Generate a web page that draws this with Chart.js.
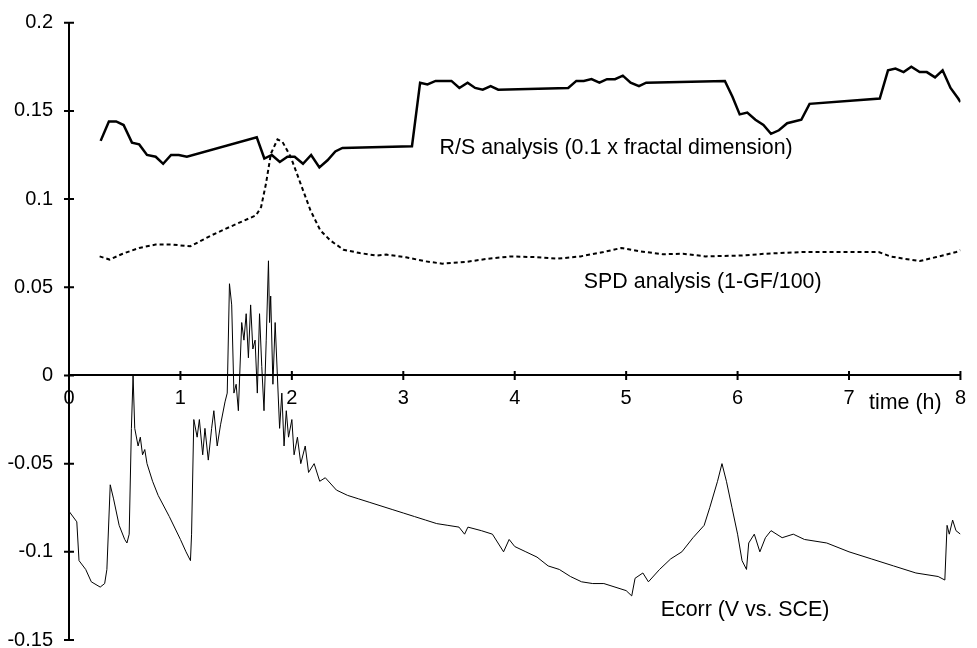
<!DOCTYPE html>
<html>
<head>
<meta charset="utf-8">
<script src="https://cdn.jsdelivr.net/npm/chart.js@4"></script>
<style>
  html, body { margin: 0; padding: 0; background: #fff; }
  #wrap { width: 977px; height: 648px; position: relative; }
</style>
</head>
<body>
<div id="wrap"><canvas id="chart"></canvas></div>
<script>
// R/S analysis (0.1 x fractal dimension)
const rsTime = [0.284, 0.358, 0.423, 0.49, 0.565, 0.63, 0.70, 0.778, 0.845, 0.916,
  0.985, 1.058, 1.685, 1.753, 1.82, 1.892, 1.96, 2.025, 2.10, 2.173,
  2.247, 2.32, 2.39, 2.454, 3.078, 3.151, 3.217, 3.29, 3.432, 3.503,
  3.577, 3.645, 3.713, 3.784, 3.852, 4.48, 4.553, 4.62, 4.689, 4.76,
  4.828, 4.90, 4.97, 5.04, 5.115, 5.18, 5.886, 5.954, 6.019, 6.087,
  6.16, 6.232, 6.30, 6.371, 6.445, 6.572, 6.646, 7.276, 7.35, 7.417,
  7.49, 7.559, 7.634, 7.698, 7.772, 7.84, 7.911, 7.98, 8.0];
const rsValue = [0.133, 0.144, 0.144, 0.142, 0.132, 0.131, 0.125, 0.124, 0.120, 0.125,
  0.125, 0.124, 0.135, 0.123, 0.125, 0.121, 0.124, 0.124, 0.120, 0.125,
  0.118, 0.122, 0.127, 0.129, 0.130, 0.166, 0.165, 0.167, 0.167, 0.163,
  0.166, 0.163, 0.162, 0.164, 0.162, 0.163, 0.167, 0.167, 0.168, 0.166,
  0.168, 0.168, 0.170, 0.166, 0.164, 0.166, 0.167, 0.158, 0.148, 0.149,
  0.145, 0.142, 0.137, 0.139, 0.143, 0.145, 0.154, 0.157, 0.173, 0.174,
  0.172, 0.175, 0.172, 0.172, 0.169, 0.173, 0.163, 0.157, 0.155];

// SPD analysis (1-GF/100)
const spdTime = [0.275, 0.364, 0.482, 0.63, 0.778, 0.925, 1.088, 1.28, 1.457, 1.679,
  1.724, 1.768, 1.812, 1.871, 1.916, 1.99, 2.078, 2.167, 2.255, 2.344,
  2.463, 2.61, 2.758, 2.847, 3.024, 3.2, 3.35, 3.556, 3.763, 3.97,
  4.177, 4.384, 4.59, 4.798, 4.96, 5.124, 5.33, 5.51, 5.715, 6.04,
  6.246, 6.60, 6.956, 7.266, 7.37, 7.488, 7.636, 7.784, 7.962, 8.0];
const spdValue = [0.0675, 0.0657, 0.069, 0.0723, 0.0742, 0.0742, 0.0732, 0.0795, 0.0846, 0.0908,
  0.0955, 0.1088, 0.1258, 0.1338, 0.1324, 0.1239, 0.1088, 0.0936, 0.0823, 0.0766,
  0.0713, 0.0694, 0.068, 0.0685, 0.067, 0.0647, 0.0634, 0.0643, 0.0662, 0.0675,
  0.0671, 0.0662, 0.0675, 0.070, 0.0723, 0.0704, 0.0687, 0.069, 0.0675, 0.068,
  0.069, 0.070, 0.070, 0.070, 0.0675, 0.0662, 0.0649, 0.0671, 0.070, 0.071];

// Ecorr (V vs. SCE)
const ecorrTime = [0, 0.07, 0.09, 0.15, 0.2, 0.28, 0.32, 0.34, 0.37, 0.40,
  0.45, 0.5, 0.52, 0.54, 0.56, 0.575, 0.59, 0.62, 0.64, 0.66,
  0.68, 0.7, 0.75, 0.8, 0.9, 1.0, 1.05, 1.09, 1.1, 1.12,
  1.15, 1.17, 1.2, 1.22, 1.25, 1.28, 1.3, 1.33, 1.36, 1.4,
  1.42, 1.44, 1.46, 1.48, 1.5, 1.52, 1.55, 1.57, 1.59, 1.61,
  1.63, 1.65, 1.67, 1.69, 1.71, 1.73, 1.75, 1.77, 1.79, 1.80,
  1.81, 1.83, 1.85, 1.87, 1.89, 1.91, 1.93, 1.95, 1.97, 2.0,
  2.02, 2.05, 2.08, 2.12, 2.15, 2.2, 2.25, 2.3, 2.4, 2.5,
  2.6, 2.7, 2.8, 2.9, 3.0, 3.1, 3.2, 3.3, 3.4, 3.5,
  3.55, 3.58, 3.7, 3.8, 3.9, 3.95, 4.0, 4.1, 4.2, 4.3,
  4.4, 4.5, 4.6, 4.7, 4.8, 4.9, 5.0, 5.05, 5.08, 5.15,
  5.2, 5.3, 5.4, 5.5, 5.6, 5.7, 5.75, 5.82, 5.86, 5.9,
  5.95, 6.0, 6.04, 6.08, 6.1, 6.15, 6.2, 6.25, 6.3, 6.4,
  6.5, 6.6, 6.8, 7.0, 7.2, 7.4, 7.6, 7.8, 7.86, 7.88,
  7.9, 7.93, 7.96, 8.0];
const ecorrValue = [-0.077, -0.083, -0.105, -0.11, -0.117, -0.12, -0.118, -0.11, -0.062, -0.07,
  -0.085, -0.093, -0.095, -0.09, -0.03, 0.0, -0.03, -0.04, -0.035, -0.045,
  -0.042, -0.05, -0.06, -0.068, -0.08, -0.093, -0.1, -0.105, -0.09, -0.025,
  -0.035, -0.025, -0.045, -0.03, -0.048, -0.03, -0.02, -0.04, -0.028, -0.015,
  -0.01, 0.052, 0.04, -0.01, -0.005, -0.02, 0.03, 0.02, 0.035, 0.01,
  0.04, 0.015, 0.02, -0.01, 0.035, 0.005, -0.02, 0.02, 0.065, 0.03,
  0.045, -0.005, 0.03, 0.0, -0.03, -0.01, -0.04, -0.02, -0.035, -0.025,
  -0.045, -0.035, -0.05, -0.04, -0.055, -0.05, -0.06, -0.058, -0.065, -0.068,
  -0.07, -0.072, -0.074, -0.076, -0.078, -0.08, -0.082, -0.084, -0.085, -0.086,
  -0.09, -0.086, -0.088, -0.09, -0.1, -0.093, -0.097, -0.1, -0.103, -0.108,
  -0.11, -0.114, -0.117, -0.118, -0.118, -0.12, -0.122, -0.125, -0.115, -0.112,
  -0.117, -0.11, -0.104, -0.1, -0.092, -0.085, -0.075, -0.06, -0.05, -0.06,
  -0.075, -0.09, -0.105, -0.11, -0.095, -0.09, -0.1, -0.092, -0.088, -0.092,
  -0.09, -0.093, -0.095, -0.1, -0.104, -0.108, -0.112, -0.114, -0.116, -0.085,
  -0.09, -0.082, -0.088, -0.09];

const xTicks = [0, 1, 2, 3, 4, 5, 6, 7, 8];
const yTicks = [-0.15, -0.1, -0.05, 0, 0.05, 0.1, 0.15, 0.2];

const FONT = "'Liberation Sans', Arial, sans-serif";

function toPoints(xs, ys) {
  return xs.map((x, i) => ({ x, y: ys[i] }));
}

// text placed in data coordinates (left edge, vertical middle)
const notes = [
  { text: "R/S analysis (0.1 x fractal dimension)", x: 3.326, y: 0.1288 },
  { text: "SPD analysis (1-GF/100)", x: 4.62, y: 0.053 },
  { text: "Ecorr (V vs. SCE)", x: 5.31, y: -0.133 },
  { text: "time (h)", x: 7.18, y: -0.0159 }
];

const axisMarks = {
  id: "axisMarks",
  afterDraw(chart) {
    const { ctx, scales: { x, y } } = chart;
    const y0 = y.getPixelForValue(0);
    const x0 = x.getPixelForValue(0);
    ctx.save();
    ctx.strokeStyle = "#000";
    ctx.lineWidth = 2;
    ctx.beginPath();
    xTicks.forEach(v => {
      const px = x.getPixelForValue(v);
      ctx.moveTo(px, y0 - 4.5);
      ctx.lineTo(px, y0 + 4.5);
    });
    yTicks.forEach(v => {
      const py = y.getPixelForValue(v);
      ctx.moveTo(x0 - 5, py);
      ctx.lineTo(x0 + 5, py);
    });
    ctx.stroke();

    ctx.fillStyle = "#000";
    ctx.font = "21.4px " + FONT;
    ctx.textAlign = "left";
    ctx.textBaseline = "middle";
    notes.forEach(n => {
      ctx.fillText(n.text, x.getPixelForValue(n.x), y.getPixelForValue(n.y));
    });
    ctx.restore();
  }
};

new Chart(document.getElementById("chart"), {
  type: "line",
  data: {
    datasets: [{
      label: "R/S analysis (0.1 x fractal dimension)",
      data: toPoints(rsTime, rsValue),
      borderColor: "#000",
      borderWidth: 2.5,
      pointRadius: 0,
      tension: 0
    }, {
      label: "SPD analysis (1-GF/100)",
      data: toPoints(spdTime, spdValue),
      borderColor: "#000",
      borderWidth: 2,
      borderDash: [4, 3],
      pointRadius: 0,
      tension: 0
    }, {
      label: "Ecorr (V vs. SCE)",
      data: toPoints(ecorrTime, ecorrValue),
      borderColor: "#000",
      borderWidth: 1,
      pointRadius: 0,
      tension: 0
    }]
  },
  options: {
    responsive: true,
    maintainAspectRatio: false,
    animation: false,
    layout: {
      padding: { top: 22.7, right: 6, bottom: 8, left: 0 }
    },
    plugins: {
      legend: { display: false },
      tooltip: { enabled: false }
    },
    scales: {
      x: {
        type: "linear",
        min: 0,
        max: 8,
        position: { y: 0 },
        grid: { display: false, drawTicks: false },
        border: { color: "#000", width: 2 },
        ticks: {
          stepSize: 1,
          autoSkip: false,
          maxRotation: 0,
          padding: 11,
          color: "#000",
          font: { family: FONT, size: 20 }
        }
      },
      y: {
        type: "linear",
        min: -0.15,
        max: 0.2,
        grid: { display: false, drawTicks: false },
        border: { color: "#000", width: 2 },
        ticks: {
          stepSize: 0.05,
          padding: 16,
          color: "#000",
          font: { family: FONT, size: 20 },
          callback: v => String(Number(v.toFixed(2)))
        },
        afterFit(scale) {
          scale.width = 69;
          scale.paddingTop = 0;
          scale.paddingBottom = 0;
        }
      }
    }
  },
  plugins: [axisMarks]
});
</script>
</body>
</html>
